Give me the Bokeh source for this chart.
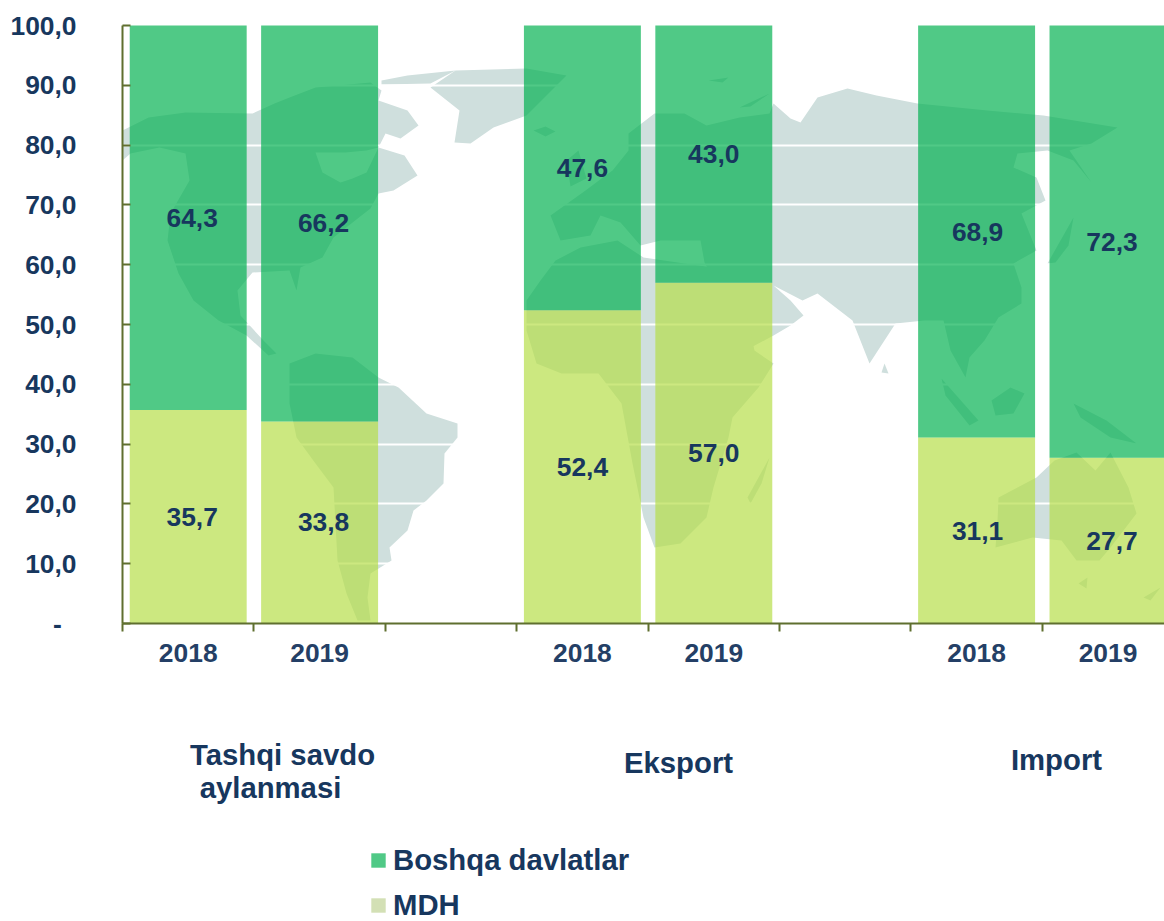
from bokeh.plotting import figure
from bokeh.models import (ColumnDataSource, FixedTicker, Legend, LegendItem, Range1d)
from bokeh.core.properties import value
from bokeh.embed import file_html
from bokeh.resources import INLINE

# ---- chart data ----
slots = [0, 1, 3, 4, 6, 7]
years = ["2018", "2019", "2018", "2019", "2018", "2019"]
mdh = [35.7, 33.8, 52.4, 57.0, 31.1, 27.7]
boshqa = [64.3, 66.2, 47.6, 43.0, 68.9, 72.3]
mdh_labels = ["35,7", "33,8", "52,4", "57,0", "31,1", "27,7"]
boshqa_labels = ["64,3", "66,2", "47,6", "43,0", "68,9", "72,3"]
label_shift_px = [4, 4, 0, 0, 1, 4]
y_tick_values = [0, 10, 20, 30, 40, 50, 60, 70, 80, 90, 100]
y_tick_labels = ["-\u00a0\u00a0", "10,0", "20,0", "30,0", "40,0", "50,0", "60,0", "70,0", "80,0", "90,0", "100,0"]
series_names = ["Boshqa davlatlar", "MDH"]
group_titles = ["Tashqi savdo", "aylanmasi", "Eksport", "Import"]
title_x_px = [282, 270, 678, 1056]
title_y_px = [754, 787, 762, 759]

# ---- decorative backdrop: a hand-traced world map, in page pixels ----
world_map = [
    # North America
    [(122,130),(148,117),(185,112),(252,113),(274,103),(289,97),(315,87),(370,82),(381,90),(378,100),(407,110),(418,125),
     (400,138),(385,133),(378,147),(366,150),(345,152),(315,152),(322,172),(340,182),(352,178),(366,172),(378,147),(404,155),(417,175),(393,190),(378,193),
     (370,208),(333,237),(322,257),(300,267),(296,290),(289,270),(252,272),(237,290),(240,315),(263,340),(276,353),
     (268,355),(246,335),(218,320),(193,300),(178,273),(167,240),(170,213),(189,180),(185,153),(159,147),(130,153),(122,160)],
    # South America
    [(289,363),(315,353),(352,357),(378,377),(398,387),(426,413),(457,423),(457,437),(444,453),(443,483),(426,500),(413,510),
     (407,530),(389,547),(391,560),(370,573),(367,597),(370,620),(357,620),(346,593),(337,560),(333,487),(315,463),(296,437),(289,403)],
    # Greenland and Ellesmere
    [(430,87),(455,70),(526,68),(566,75),(544,97),(526,115),(493,127),(470,143),(454,142),(459,110)],
    [(381,80),(407,75),(455,70),(430,83),(381,84)],
    # Iceland
    [(533,130),(545,126),(555,131),(545,136)],
    # Britain
    [(566,160),(578,150),(586,178),(570,186)],
    # Eurasia
    [(628,133),(654,113),(684,113),(706,125),(739,117),(769,113),(773,103),(790,118),(800,122),(817,97),(847,88),(876,95),(917,103),(987,110),
     (1043,115),(1117,127),(1091,143),(1069,150),(1091,182),(1073,160),(1047,150),(1017,153),(1013,167),(1036,177),(1045,200),
     (1021,213),(1036,250),(1013,263),(1021,287),(1021,303),(998,317),(984,340),(969,357),(965,377),(950,350),(943,320),(924,320),
     (895,323),(869,363),(852,320),(817,293),(802,300),(773,285),(790,300),(803,315),(790,325),(773,335),(745,350),(730,310),(704,262),
     (700,240),(660,240),(640,245),(620,222),(600,215),(590,235),(560,240),(550,215),(585,190),(605,175),(612,170),(628,150)],
    # Africa
    [(580,247),(617,240),(643,257),(684,263),(713,267),(728,283),(747,317),(754,350),(773,363),(758,387),(732,417),(728,437),
     (713,487),(706,517),(680,543),(654,547),(643,517),(632,463),(621,403),(598,373),(561,373),(536,363),(526,330),(526,300),(540,280),(555,260)],
    # Madagascar
    [(747,497),(769,457),(761,483),(750,503)],
    # Arctic islands
    [(708,80),(728,77),(722,82)],
    [(739,107),(769,93),(750,106)],
    # Japan, Sri Lanka
    [(1047,263),(1073,217),(1068,245),(1055,262)],
    [(884,363),(888,373),(881,372)],
    # South-East Asia and Oceania
    [(941,378),(978,420),(969,425),(945,395)],
    [(991,400),(1010,387),(1024,393),(1013,413),(995,415)],
    [(1073,403),(1106,420),(1136,443),(1110,437),(1080,417)],
    [(998,497),(1036,477),(1054,460),(1076,452),(1095,470),(1110,452),(1128,487),(1136,513),(1110,547),(1099,560),(1076,560),
     (1061,540),(1032,537),(995,547),(997,520)],
    [(1078,583),(1087,577),(1086,588)],
    [(1143,597),(1160,587),(1150,600)],
]

GREEN, LIGHT = "#02b150", "#b5de47"
NAVY, YEAR = "#17375e", "#243f66"
AXIS = "#5f6f2f"
FONT = "Liberation Sans"

X0, SLOT = 122.0, 131.4
Y0, UNIT = 623.0, 5.98
def dx(px): return (px - X0) / SLOT
def dy(py): return (Y0 - py) / UNIT

p = figure(width=1164, height=921, output_backend="svg", toolbar_location=None,
           x_range=Range1d(dx(0), dx(1164)), y_range=Range1d(dy(921), dy(0)),
           min_border=0,
           background_fill_color=None, border_fill_color=None, outline_line_color=None)

# map below the white grid lines
p.patches([[dx(a) for a, _ in poly] for poly in world_map],
          [[dy(b) for _, b in poly] for poly in world_map],
          fill_color="#cfdfdd", line_color=None, level="image")

centres = [s + 0.5 for s in slots]
src = ColumnDataSource(dict(x=centres, mdh=mdh, boshqa=boshqa))
p.vbar_stack(["mdh", "boshqa"], x="x", width=0.89, source=src, color=[LIGHT, GREEN],
             fill_alpha=0.69, line_color=None)

# value labels
lab_y = [m / 2 for m in mdh] + [m + b / 2 for m, b in zip(mdh, boshqa)]
lab = ColumnDataSource(dict(x=centres * 2, y=lab_y, t=mdh_labels + boshqa_labels, dx=label_shift_px * 2))
p.text("x", "y", text="t", x_offset="dx", source=lab, text_align="center", text_baseline="middle",
       text_font=value(FONT), text_font_style="bold", text_font_size="26.4px", text_color=NAVY)

# axes, pinned inside the full-page frame
p.xgrid.visible = False
p.ygrid.ticker = FixedTicker(ticks=y_tick_values[1:-1])
p.ygrid.grid_line_color = "white"
p.ygrid.grid_line_width = 2
p.ygrid.bounds = (0, dx(1164))

xa = p.xaxis[0]
xa.fixed_location = 0
xa.bounds = (0, dx(1164))
xa.ticker = FixedTicker(ticks=centres, minor_ticks=list(range(0, 8)))
xa.major_label_overrides = {c: y for c, y in zip(centres, years)}
xa.major_tick_in = 0; xa.major_tick_out = 0
xa.minor_tick_in = 0; xa.minor_tick_out = 8
xa.minor_tick_line_color = AXIS; xa.minor_tick_line_width = 2
xa.axis_line_color = AXIS; xa.axis_line_width = 2
xa.major_label_standoff = 12
xa.major_label_text_font = FONT; xa.major_label_text_font_style = "bold"
xa.major_label_text_font_size = "26.4px"; xa.major_label_text_color = YEAR

ya = p.yaxis[0]
ya.fixed_location = 0
ya.bounds = (0, 100)
ya.ticker = FixedTicker(ticks=y_tick_values)
ya.major_label_overrides = dict(zip(y_tick_values, y_tick_labels))
ya.major_tick_in = 8; ya.major_tick_out = 0
ya.minor_tick_line_color = None
ya.major_tick_line_color = AXIS; ya.major_tick_line_width = 2
ya.axis_line_color = AXIS; ya.axis_line_width = 2
ya.major_label_standoff = 46
ya.major_label_text_font = FONT; ya.major_label_text_font_style = "bold"
ya.major_label_text_font_size = "26.4px"; ya.major_label_text_color = NAVY

# group titles
tsrc = ColumnDataSource(dict(x=[dx(a) for a in title_x_px], y=[dy(b) for b in title_y_px], t=group_titles))
p.text("x", "y", text="t", source=tsrc, text_align="center", text_baseline="middle",
       text_font=value(FONT), text_font_style="bold", text_font_size="29.3px", text_color=NAVY)

# legend: zero-height bars that only carry the swatch colours
r1 = p.vbar(x=[0.5], top=[0], width=0.01, fill_color="#50c986", line_color=None)
r2 = p.vbar(x=[0.5], top=[0], width=0.01, fill_color="#d3e0b5", line_color=None)
legend = Legend(items=[LegendItem(label=series_names[0], renderers=[r1]), LegendItem(label=series_names[1], renderers=[r2])],
                location=(369, -1), orientation="vertical", spacing=11, padding=0, margin=0,
                glyph_width=18, glyph_height=18, label_standoff=6,
                background_fill_alpha=0, border_line_color=None,
                label_text_font=FONT, label_text_font_style="bold", label_text_font_size="29.3px",
                label_text_color=NAVY)
p.add_layout(legend, "center")

open("out.html", "w").write(file_html(p, INLINE))
